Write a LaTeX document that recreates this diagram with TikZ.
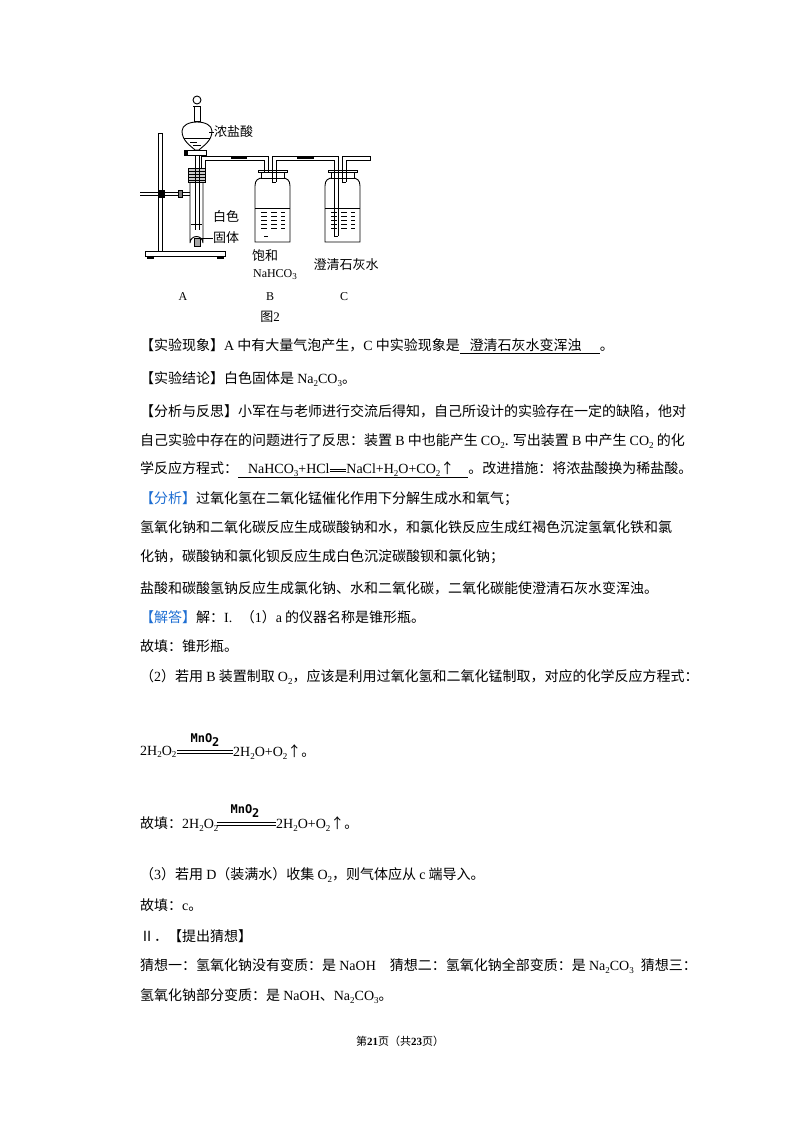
\documentclass[tikz,border=0pt]{standalone}
\usepackage{fontspec}
\setmainfont{Noto Sans CJK SC}
\newfontfamily\tm{Liberation Serif}
\newfontfamily\mn{DejaVu Sans Mono}
\newcommand{\T}[1]{{\tm #1}}
\newcommand{\dn}[1]{\raisebox{-0.35ex}{\fontsize{9}{9}\selectfont\tm #1}}
\definecolor{blu}{RGB}{30,110,210}
\begin{document}
\begin{tikzpicture}[x=1pt,y=-1pt,
  txt/.style={anchor=west,inner sep=0,font=\fontsize{14}{14}\selectfont},
  lab/.style={inner sep=0,font=\fontsize{13}{13}\selectfont},
  app/.style={line width=0.9pt,black},
  conn/.style={line width=2.6pt,black}]
\useasboundingbox (0,0) rectangle (800,1132);
% ---------- apparatus ----------
% stand
\draw[app,fill=white] (145,251) rectangle (225,256);
\draw[app,fill=black] (147,256) rectangle (153,258) (217,256) rectangle (223,258);
\draw[app] (158,133) rectangle (162,251);
\draw[app] (140,192) -- (190,192) (140,195)--(190,195);
\draw[app,fill=black] (158,190) rectangle (164,197);
\draw[app,fill=gray] (178,190) rectangle (182,197);
% test tube
\draw[app] (190,182) -- (190,243) arc[start angle=180,end angle=360,radius=6.5] -- (203,182);
\draw[app] (191,224) -- (202,224);
\draw[app,fill=gray!70] (194,238) rectangle (200,246);
% stopper
\draw[app,fill=gray!40] (188,168) rectangle (205,182);
\foreach \yy in {171,174,177,180} \draw[app,line width=0.5pt] (188,\yy)--(205,\yy);
% funnel
\draw[app] (194,106) rectangle (200,121);
\draw[app] (193,106) -- (201,106);
\draw[app,fill=white] (197,100) circle (4);
\draw[app,fill=white] (182,131) .. controls (182,119) and (212,119) .. (212,131)
  .. controls (212,141) and (203,146) .. (199,150) -- (195,150) .. controls (191,146) and (182,141) .. (182,131) -- cycle;
\draw[app] (184,138) -- (210,138);
\draw[app,line width=0.5pt] (190,142)--(197,142) (193,145)--(201,145);
\draw[app] (195,150) -- (195,230) (199,150)--(199,230);
\draw[app,fill=white] (186,150) rectangle (206,155);
\draw[app,fill=black] (184,150) rectangle (187,155);
% outlet tube A->B
\draw[app] (201,168) -- (201,156) -- (268,156) -- (268,236) (205,168)--(205,160)--(264,160)--(264,236);
\draw[conn] (231,158) -- (247,158);
% bottle B and C
\foreach \bx in {255,325} {
  \draw[app,fill=white] (\bx,186) .. controls (\bx,180) and (\bx+3,178) .. (\bx+8,178) -- (\bx+27,178)
    .. controls (\bx+32,178) and (\bx+35,180) .. (\bx+35,186) -- (\bx+35,242) -- (\bx,242) -- cycle;
  \draw[app,fill=white] (\bx+6,172) rectangle (\bx+29,178);
  \draw[app] (\bx+3,170) rectangle (\bx+32,172);
  \draw[app] (\bx,208) -- (\bx+35,208);
  \foreach \ly in {212,216,220,224,228} \draw[line width=0.5pt] (\bx+6,\ly)--(\bx+12,\ly) (\bx+16,\ly)--(\bx+22,\ly) (\bx+26,\ly)--(\bx+30,\ly);
}
% B -> C
\draw[app] (272,182) -- (272,156) -- (338,156) -- (338,236) (276,182)--(276,160)--(334,160)--(334,236);
\draw[app] (264,236)--(268,236) (334,236)--(338,236) (272,182)--(276,182) (342,182)--(346,182);
\draw[conn] (297,158) -- (314,158);
% C outlet
\draw[app] (342,182) -- (342,156) -- (370,156) (346,182)--(346,160)--(370,160) -- (370,156);
% labels
\node[lab,anchor=west] (nsa) at (214,132) {浓盐酸};
\draw[app,line width=0.6pt] (209,132) -- (nsa.west);
\node[lab,anchor=west] (bs) at (213,217) {白色};
\node[lab,anchor=west] (gt) at (213,238) {固体};
\draw[app,line width=0.6pt] (197,238) -- (gt.west);
\node[lab] (bh) at (265,256) {饱和};
\node[inner sep=0] (nah) at (275,275) {\fontsize{12}{12}\selectfont\T{NaHCO\dn{3}}};
\node[lab] (cq) at (346,265) {澄清石灰水};
\node[inner sep=0] (la) at (183,297) {\fontsize{12}{12}\selectfont\T{A}};
\node[inner sep=0] (lb) at (270,297) {\fontsize{12}{12}\selectfont\T{B}};
\node[inner sep=0] (lc) at (344,297) {\fontsize{12}{12}\selectfont\T{C}};
\node[lab] (t2) at (270,317) {图\T{2}};
% ---------- text ----------
\node[txt] (l1) at (140,346) {【实验现象】\T{A} 中有大量气泡产生，\T{C} 中实验现象是\underline{\hspace{0.7em}澄清石灰水变浑浊\hspace{1.3em}}。};
\node[txt] (l2) at (140,379) {【实验结论】白色固体是 \T{Na\dn{2}CO\dn{3}}。};
\node[txt] (l3) at (140,411) {【分析与反思】小军在与老师进行交流后得知，自己所设计的实验存在一定的缺陷，他对};
\node[txt] (l4) at (140,441) {自己实验中存在的问题进行了反思：装置 \T{B} 中也能产生 \T{CO\dn{2}}. 写出装置 \T{B} 中产生 \T{CO\dn{2}} 的化};
\node[txt] (l5) at (140,470) {学反应方程式：\underline{\hspace{0.7em}\T{NaHCO\dn{3}+HCl}\rule[0.25ex]{1.2em}{0.5pt}\hspace{-1.2em}\rule[0.55ex]{1.2em}{0.5pt}\T{NaCl+H\dn{2}O+CO\dn{2}}↑\hspace{1em}}。改进措施：将浓盐酸换为稀盐酸。};
\node[txt] (l6) at (140,499) {\textcolor{blu}{【分析】}过氧化氢在二氧化锰催化作用下分解生成水和氧气；};
\node[txt] (l7) at (140,527) {氢氧化钠和二氧化碳反应生成碳酸钠和水，和氯化铁反应生成红褐色沉淀氢氧化铁和氯};
\node[txt] (l8) at (140,557) {化钠，碳酸钠和氯化钡反应生成白色沉淀碳酸钡和氯化钠；};
\node[txt] (l9) at (140,588) {盐酸和碳酸氢钠反应生成氯化钠、水和二氧化碳，二氧化碳能使澄清石灰水变浑浊。};
\node[txt] (l10) at (140,617) {\textcolor{blu}{【解答】}解：\T{I.}\hspace{0.6em}（\T{1}）\T{a} 的仪器名称是锥形瓶。};
\node[txt] (l11) at (140,646) {故填：锥形瓶。};
\node[txt] (l12) at (140,677) {（\T{2}）若用 \T{B} 装置制取 \T{O\dn{2}}，应该是利用过氧化氢和二氧化锰制取，对应的化学反应方程式：};
% equation 1
\node[txt] (e1a) at (140,752) {\T{2H\dn{2}O\dn{2}}};
\draw[line width=0.6pt] (177,750.5) -- (233,750.5) (177,753) -- (233,753);
\node[inner sep=0,font=\mn\bfseries\fontsize{12}{12}\selectfont] (m1) at (205,740) {MnO\raisebox{-0.5ex}{2}};
\node[txt] (e1b) at (233,752) {\T{2H\dn{2}O+O\dn{2}}↑。};
% equation 2
\node[txt] (e2a) at (140,824) {故填：\T{2H\dn{2}O\dn{2}}};
\draw[line width=0.6pt] (217,822.5) -- (276,822.5) (217,825) -- (276,825);
\node[inner sep=0,font=\mn\bfseries\fontsize{12}{12}\selectfont] (m2) at (245,811) {MnO\raisebox{-0.5ex}{2}};
\node[txt] (e2b) at (276,824) {\T{2H\dn{2}O+O\dn{2}}↑。};
\node[txt] (l13) at (140,875) {（\T{3}）若用 \T{D}（装满水）收集 \T{O\dn{2}}，则气体应从 \T{c} 端导入。};
\node[txt] (l14) at (140,905) {故填：\T{c}。};
\node[txt] (l15) at (140,936) {Ⅱ．【提出猜想】};
\node[txt] (l16) at (140,966) {猜想一：氢氧化钠没有变质：是 \T{NaOH}\hspace{1em}猜想二：氢氧化钠全部变质：是 \T{Na\dn{2}CO\dn{3}}\hspace{0.5em}猜想三：};
\node[txt] (l17) at (140,996) {氢氧化钠部分变质：是 \T{NaOH}、\T{Na\dn{2}CO\dn{3}}。};
\node[inner sep=0,font=\fontsize{11}{11}\selectfont] (ft) at (400,1041) {第\T{\textbf{21}}页（共\T{\textbf{23}}页）};
\end{tikzpicture}
\end{document}
